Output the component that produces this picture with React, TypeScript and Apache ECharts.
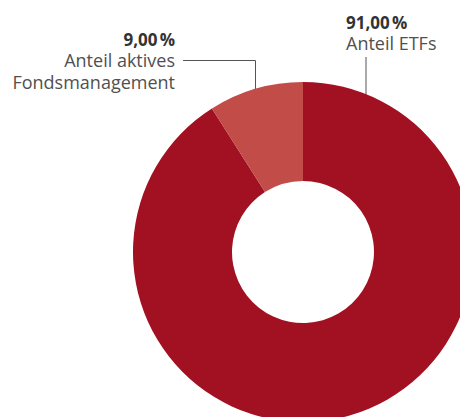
import React, { useEffect, useRef } from "react";
import * as echarts from "echarts";

const categories = ["Anteil ETFs", "Anteil aktives\nFondsmanagement"];
const values = [91.0, 9.0];
const valueLabels = ["91,00\u202F%", "9,00\u202F%"];
const colors = ["#A21122", "#C14C48"];

export default function App() {
  const ref = useRef<HTMLDivElement>(null);
  useEffect(() => {
    document.body.style.margin = "0";
    const chart = echarts.init(ref.current!, null, { renderer: "svg" });
    const font = "'Open Sans', 'Noto Sans', sans-serif";
    chart.setOption({
      animation: false,
      backgroundColor: "#ffffff",
      series: [
        {
          type: "pie",
          center: [303, 252],
          radius: [71, 170],
          startAngle: 90,
          clockwise: true,
          avoidLabelOverlap: false,
          emphasis: { disabled: true },
          data: categories.map((name, i) => ({
            name,
            value: values[i],
            itemStyle: { color: colors[i] },
          })),
          label: {
            show: true,
            fontFamily: font,
            formatter: (p: any) =>
              "{v|" + valueLabels[p.dataIndex] + "}\n{n|" + p.name.split("\n").join("}\n{n|") + "}",
            rich: {
              v: { fontFamily: font, fontSize: 17, fontWeight: "bold", color: "#333333", lineHeight: 21 },
              n: { fontFamily: font, fontSize: 18, color: "#505050", lineHeight: 21.6 },
            },
          },
          labelLine: { show: true, lineStyle: { color: "#555555", width: 1 } },
          labelLayout: (p: any) => {
            if (p.dataIndex === 0) {
              return {
                x: 346,
                y: 11.5,
                align: "left",
                verticalAlign: "top",
                labelLinePoints: [[366, 57], [366, 82], [366, 108]],
              };
            }
            return {
              x: 175,
              y: 28.5,
              align: "right",
              verticalAlign: "top",
              labelLinePoints: [[183, 60.5], [255.5, 60.5], [255.5, 102]],
            };
          },
        },
      ],
    });
    return () => chart.dispose();
  }, []);
  return <div ref={ref} style={{ width: 460, height: 417 }} />;
}
